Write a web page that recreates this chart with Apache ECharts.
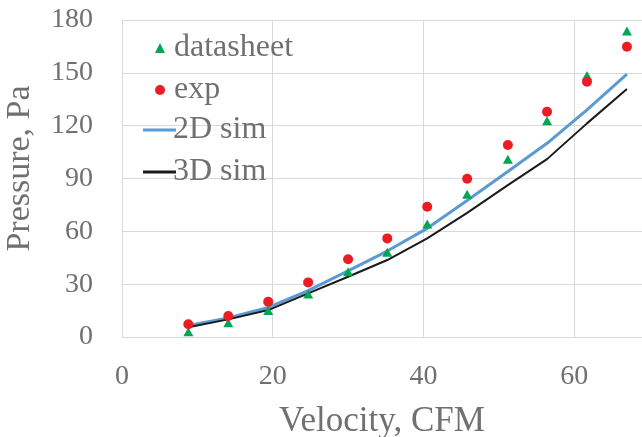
<!DOCTYPE html>
<html>
<head>
<meta charset="utf-8">
<script src="https://cdn.jsdelivr.net/npm/echarts@6/dist/echarts.min.js"></script>
<style>html,body{margin:0;padding:0;background:#fff}#c{width:642px;height:437px}</style>
</head>
<body>
<div id="c"></div>
<script>
var velocity = [8.8, 14.1, 19.4, 24.7, 30.0, 35.2, 40.5, 45.8, 51.2, 56.4, 61.7, 67.0];
var datasheet = [3.0, 8.1, 15.0, 24.4, 37.1, 48.1, 64.1, 81.0, 100.9, 122.8, 148.5, 173.7];
var expData = [7.2, 11.9, 20.0, 31.0, 44.1, 56.0, 74.0, 89.9, 109.0, 127.9, 144.9, 164.8];
var sim2D = [6.5, 10.8, 16.8, 26.3, 37.5, 48.8, 61.7, 77.5, 94.0, 110.0, 129.0, 149.3];
var sim3D = [5.5, 10.0, 15.3, 24.8, 34.2, 43.7, 56.0, 70.5, 86.2, 101.0, 121.3, 140.8];
var seriesNames = ['datasheet', 'exp', '2D sim', '3D sim'];

function pairs(ys) { return velocity.map(function (x, i) { return [x, ys[i]]; }); }

var font = '"Liberation Serif", "Times New Roman", serif';
var textColor = '#707070';
var legendText = { fontFamily: font, fontSize: 32, color: textColor };
var chart = echarts.init(document.getElementById('c'));
chart.setOption({
  animation: false,
  backgroundColor: '#fff',
  grid: { left: 122, top: 20, right: 0, bottom: 100, containLabel: false, outerBoundsMode: 'none' },
  legend: [
    {
      orient: 'vertical', left: 150, top: 27,
      itemWidth: 10, itemHeight: 10, itemGap: 10,
      textStyle: Object.assign({ padding: [0, 0, 0, 4] }, legendText),
      data: [{ name: seriesNames[0], icon: 'triangle' }, { name: seriesNames[1], icon: 'circle' }]
    },
    {
      orient: 'vertical', left: 138, top: 109,
      itemWidth: 33, itemHeight: 3, itemGap: 10,
      textStyle: Object.assign({ padding: [0, 0, 0, -8] }, legendText),
      data: [{ name: seriesNames[2], icon: 'rect' }, { name: seriesNames[3], icon: 'rect' }]
    }
  ],
  xAxis: {
    type: 'value', min: 0, max: 69, interval: 20,
    name: 'Velocity, CFM', nameLocation: 'middle', nameGap: 67,
    nameTextStyle: { fontFamily: font, fontSize: 35, color: textColor },
    axisLine: { show: true, lineStyle: { color: '#d9d9d9', width: 1 } },
    axisTick: { show: false },
    axisLabel: { fontFamily: font, fontSize: 28, color: textColor, margin: 26, showMaxLabel: false },
    splitLine: { show: true, lineStyle: { color: '#d9d9d9', width: 1 } }
  },
  yAxis: {
    type: 'value', min: 0, max: 180, interval: 30,
    name: 'Pressure, Pa', nameLocation: 'middle', nameGap: 85,
    nameTextStyle: { fontFamily: font, fontSize: 34, color: textColor, padding: [0, 0, 0, 20] },
    axisLine: { show: true, lineStyle: { color: '#d9d9d9', width: 1 } },
    axisTick: { show: false },
    axisLabel: { fontFamily: font, fontSize: 28, color: textColor, margin: 29 },
    splitLine: { show: true, lineStyle: { color: '#d9d9d9', width: 1 } }
  },
  series: [
    { name: seriesNames[2], type: 'line', data: pairs(sim2D), showSymbol: false, symbol: 'none',
      lineStyle: { color: '#5b9bd5', width: 3 }, itemStyle: { color: '#5b9bd5' }, z: 2 },
    { name: seriesNames[3], type: 'line', data: pairs(sim3D), showSymbol: false, symbol: 'none',
      lineStyle: { color: '#1a1a1a', width: 2 }, itemStyle: { color: '#1a1a1a' }, z: 3 },
    { name: seriesNames[0], type: 'scatter', data: pairs(datasheet), symbol: 'triangle', symbolSize: [10, 9],
      itemStyle: { color: '#00a651', opacity: 1 }, z: 4 },
    { name: seriesNames[1], type: 'scatter', data: pairs(expData), symbol: 'circle', symbolSize: 10,
      itemStyle: { color: '#ed1c24', opacity: 1 }, z: 5 }
  ]
});
</script>
</body>
</html>
